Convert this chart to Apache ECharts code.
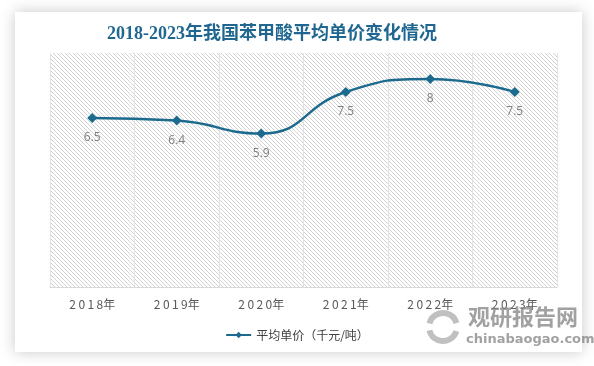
<!DOCTYPE html>
<html><head><meta charset="utf-8">
<script src="https://cdn.jsdelivr.net/npm/echarts@6/dist/echarts.min.js"></script>
<style>html,body{margin:0;padding:0;background:#fff;}#c{width:594px;height:366px;}</style>
</head><body><div id="c"></div>
<script>
var categories = ['2018年','2019年','2020年','2021年','2022年','2023年'];
var prices = [6.5, 6.4, 5.9, 7.5, 8, 7.5];
var seriesName = '平均单价（千元/吨）';
var titleText = '2018-2023年我国苯甲酸平均单价变化情况';

var pc = document.createElement('canvas');
pc.width = 4; pc.height = 4;
var ctx = pc.getContext('2d');
ctx.fillStyle = '#ffffff'; ctx.fillRect(0,0,4,4);
ctx.strokeStyle = '#d2d2d2'; ctx.lineWidth = 1;
ctx.beginPath(); ctx.moveTo(-1,-1); ctx.lineTo(5,5); ctx.stroke();
ctx.beginPath(); ctx.moveTo(3,-1); ctx.lineTo(5,1); ctx.stroke();
ctx.beginPath(); ctx.moveTo(-1,3); ctx.lineTo(1,5); ctx.stroke();

var chart = echarts.init(document.getElementById('c'));
chart.setOption({
  backgroundColor: '#ffffff',
  graphic: [
    {type:'rect', z:-10, shape:{x:15,y:12,width:567,height:340}, style:{fill:'#fff', shadowBlur:14, shadowColor:'rgba(0,0,0,0.22)', shadowOffsetX:0, shadowOffsetY:0}},
    {type:'arc', z:5, shape:{cx:443, cy:327, r:14, startAngle:0.3, endAngle:2.9}, style:{fill:'none', stroke:'rgba(150,150,150,0.6)', lineWidth:6}},
    {type:'arc', z:5, shape:{cx:443, cy:327, r:14, startAngle:3.4, endAngle:6.0}, style:{fill:'none', stroke:'rgba(150,150,150,0.6)', lineWidth:6}},
    {type:'text', z:5, left:468, top:306, style:{text:'观研报告网', fill:'rgba(130,130,130,0.75)', font:'bold 22px "Noto Sans CJK SC"'}},
    {type:'text', z:5, left:466, top:333, style:{text:'chinabaogao.com', fill:'rgba(130,130,130,0.75)', font:'bold 13px "DejaVu Sans"'}}
  ],
  title: {
    text: titleText, left: 267, top: 20, textAlign: 'center',
    textStyle: {color:'#1f6790', fontSize:18, fontWeight:'bold', fontFamily:'"Liberation Serif","Noto Sans CJK SC"'}
  },
  legend: {
    data: [seriesName], left: 'center', top: 324, itemWidth: 25, itemHeight: 8,
    textStyle: {color:'#404040', fontSize:12, fontFamily:'"Noto Sans CJK SC"'}
  },
  grid: {left:50, right:37, top:53, bottom:79, show:true, borderWidth:0,
    backgroundColor: {image: pc, repeat: 'repeat'}},
  xAxis: {
    type:'category', data: categories, boundaryGap: true,
    axisLine:{show:true, lineStyle:{color:'#d9d9d9', width:1}},
    axisTick:{show:false},
    splitLine:{show:true, lineStyle:{color:'#e2e2e2', width:1}},
    axisLabel:{color:'#595959', fontSize:12, margin:11, fontFamily:'"Noto Sans CJK SC"',
      formatter: function(v){ return v.replace(/(\d)(?=\d)/g,'$1\u2009'); }}
  },
  yAxis: {type:'value', min:0, max:9, show:false, splitLine:{show:false}},
  series: [{
    name: seriesName, type:'line', data: prices, smooth: true,
    symbol:'diamond', symbolSize:10,
    lineStyle:{color:'#1c6a8e', width:2.5},
    itemStyle:{color:'#1c6a8e'},
    label:{show:true, position:'bottom', distance:9, color:'#7f7f7f', fontSize:12, fontFamily:'"Open Sans","Noto Sans"'}
  }]
});
</script></body></html>
